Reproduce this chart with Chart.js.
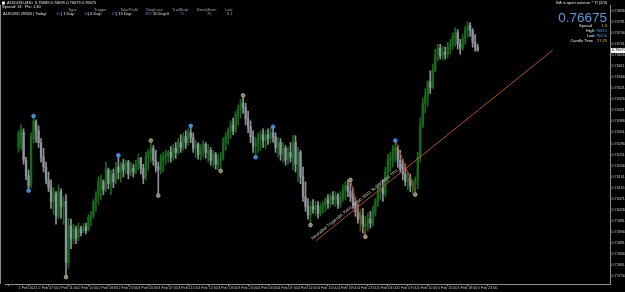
<!DOCTYPE html>
<html>
<head>
<meta charset="utf-8">
<script src="https://cdn.jsdelivr.net/npm/chart.js@4.4.1/dist/chart.umd.min.js"></script>
<style>
  html, body { margin: 0; padding: 0; background: #000; overflow: hidden; }
  canvas { display: block; }
</style>
</head>
<body>
<canvas id="priceChart" width="625" height="292"></canvas>
<script>
'use strict';

/* AUDUSD M30 candles, prices in points (1e-5) */
const OPEN = [
  76280, 76300, 76340, 76228, 76164, 76128, 76316, 76384, 76348, 76300,
  76240, 76200, 76148, 76116, 76060, 76092, 76000, 76100, 76040, 76060,
  75812, 75960, 75908, 75948, 75916, 75948, 75940, 75956, 75948, 75996,
  76004, 76060, 76084, 76140, 76140, 76116, 76188, 76132, 76172, 76148,
  76200, 76180, 76212, 76200, 76220, 76180, 76196, 76188, 76212, 76236,
  76196, 76164, 76240, 76260, 76276, 76228, 76200, 76188, 76228, 76244,
  76252, 76260, 76240, 76276, 76260, 76300, 76280, 76324, 76300, 76340,
  76320, 76276, 76292, 76252, 76276, 76292, 76260, 76268, 76228, 76252,
  76212, 76228, 76240, 76300, 76324, 76348, 76372, 76348, 76412, 76436,
  76460, 76444, 76396, 76364, 76324, 76284, 76300, 76316, 76332, 76308,
  76332, 76316, 76340, 76324, 76280, 76300, 76252, 76276, 76228, 76260,
  76240, 76300, 76212, 76260, 76160, 76080, 76040, 76004, 76040, 76028,
  76044, 76012, 76036, 76048, 76068, 76052, 76080, 76068, 76084, 76048,
  76076, 76108, 76124, 76100, 76080, 76052, 76020, 75988, 76004, 75956,
  75972, 75988, 75972, 76020, 76060, 76100, 76116, 76092, 76180, 76228,
  76240, 76268, 76280, 76228, 76200, 76172, 76140, 76156, 76124, 76132,
  76148, 76240, 76372, 76460, 76492, 76548, 76524, 76596, 76660, 76684,
  76652, 76668, 76660, 76692, 76700, 76732, 76748, 76700, 76684, 76724,
  76756, 76776, 76756, 76708, 76688,
];
const HIGH = [
  76348, 76372, 76356, 76240, 76188, 76340, 76408, 76392, 76368, 76316,
  76276, 76220, 76180, 76148, 76116, 76100, 76128, 76112, 76080, 76088,
  75992, 75988, 75968, 75960, 75972, 75960, 75972, 75972, 76008, 76020,
  76068, 76100, 76160, 76168, 76148, 76220, 76196, 76188, 76192, 76220,
  76248, 76220, 76232, 76228, 76228, 76220, 76212, 76228, 76252, 76240,
  76212, 76260, 76272, 76308, 76288, 76268, 76220, 76252, 76260, 76268,
  76268, 76284, 76292, 76300, 76316, 76332, 76340, 76348, 76356, 76368,
  76340, 76308, 76300, 76292, 76308, 76300, 76292, 76280, 76268, 76260,
  76252, 76260, 76320, 76340, 76360, 76388, 76400, 76428, 76452, 76476,
  76492, 76460, 76428, 76388, 76348, 76320, 76340, 76348, 76356, 76348,
  76356, 76360, 76364, 76340, 76320, 76316, 76300, 76288, 76280, 76300,
  76328, 76328, 76280, 76268, 76200, 76140, 76072, 76060, 76068, 76060,
  76060, 76052, 76060, 76076, 76088, 76092, 76100, 76100, 76092, 76100,
  76128, 76140, 76148, 76148, 76116, 76076, 76048, 76028, 76032, 76000,
  76012, 76020, 76040, 76072, 76120, 76140, 76148, 76200, 76252, 76260,
  76288, 76308, 76288, 76268, 76232, 76212, 76180, 76172, 76148, 76160,
  76260, 76400, 76480, 76520, 76552, 76592, 76620, 76680, 76700, 76700,
  76692, 76688, 76708, 76720, 76748, 76768, 76760, 76720, 76740, 76772,
  76792, 76788, 76764, 76740, 76700,
];
const LOW = [
  76260, 76272, 76212, 76148, 76104, 76116, 76300, 76300, 76280, 76220,
  76180, 76132, 76100, 76032, 76008, 75968, 75988, 75992, 75968, 75752,
  75788, 75868, 75888, 75888, 75900, 75920, 75932, 75928, 75940, 75960,
  75992, 76020, 76048, 76068, 76088, 76100, 76112, 76088, 76116, 76132,
  76152, 76140, 76160, 76172, 76152, 76164, 76160, 76172, 76188, 76172,
  76132, 76148, 76188, 76220, 76208, 76180, 76084, 76172, 76180, 76212,
  76220, 76220, 76228, 76236, 76252, 76260, 76268, 76276, 76288, 76300,
  76260, 76240, 76232, 76228, 76240, 76236, 76220, 76208, 76200, 76192,
  76188, 76184, 76228, 76268, 76292, 76316, 76332, 76340, 76372, 76400,
  76420, 76372, 76340, 76300, 76260, 76240, 76260, 76268, 76280, 76276,
  76292, 76300, 76300, 76260, 76240, 76228, 76220, 76208, 76212, 76220,
  76188, 76180, 76140, 76132, 76060, 76020, 75988, 75964, 76012, 76004,
  75992, 76000, 76012, 76020, 76032, 76036, 76048, 76040, 76032, 76036,
  76060, 76068, 76080, 76060, 76032, 76000, 75972, 75940, 75932, 75916,
  75940, 75952, 75960, 76000, 76040, 76068, 76060, 76080, 76140, 76180,
  76200, 76220, 76200, 76180, 76148, 76124, 76108, 76100, 76092, 76088,
  76112, 76220, 76360, 76420, 76448, 76500, 76520, 76588, 76632, 76640,
  76636, 76640, 76644, 76660, 76680, 76692, 76680, 76660, 76676, 76700,
  76728, 76732, 76688, 76672, 76672,
];
const CLOSE = [
  76340, 76356, 76228, 76164, 76124, 76320, 76388, 76348, 76300, 76240,
  76200, 76148, 76116, 76060, 76100, 76000, 76100, 76040, 76060, 75812,
  75960, 75908, 75948, 75908, 75948, 75932, 75956, 75940, 75996, 76004,
  76060, 76084, 76140, 76148, 76108, 76196, 76132, 76172, 76140, 76200,
  76180, 76212, 76188, 76220, 76172, 76196, 76180, 76212, 76236, 76196,
  76156, 76244, 76260, 76276, 76228, 76200, 76188, 76236, 76244, 76252,
  76260, 76240, 76276, 76260, 76300, 76280, 76324, 76300, 76340, 76320,
  76276, 76292, 76252, 76276, 76292, 76260, 76268, 76228, 76252, 76212,
  76228, 76240, 76300, 76324, 76348, 76372, 76348, 76412, 76436, 76460,
  76444, 76396, 76364, 76324, 76284, 76300, 76316, 76332, 76308, 76332,
  76316, 76340, 76324, 76280, 76300, 76252, 76276, 76228, 76260, 76240,
  76300, 76212, 76260, 76160, 76080, 76040, 76004, 76040, 76028, 76044,
  76012, 76036, 76048, 76068, 76052, 76080, 76068, 76084, 76048, 76076,
  76108, 76124, 76100, 76080, 76052, 76020, 75988, 76004, 75956, 75972,
  75988, 75972, 76020, 76060, 76100, 76116, 76092, 76180, 76228, 76240,
  76268, 76280, 76228, 76200, 76172, 76140, 76156, 76124, 76132, 76148,
  76240, 76372, 76460, 76492, 76548, 76524, 76596, 76660, 76684, 76652,
  76668, 76660, 76692, 76700, 76732, 76748, 76700, 76684, 76724, 76756,
  76776, 76756, 76708, 76688, 76675,
];

/* zigzag swing points: bar index, price, marker kind */
const SWING_IDX   = [4, 6, 19, 40, 53, 56, 69, 81, 90, 95, 102, 117, 133, 139, 151, 159];
const SWING_PRICE = [76104, 76408, 75752, 76248, 76308, 76084, 76368, 76184, 76492, 76240, 76364, 75964, 76148, 75916, 76308, 76088];
const SWING_KIND  = ['b', 'b', 'o', 'b', 'o', 'o', 'b', 'o', 'o', 'b', 'b', 'o', 'o', 'o', 'b', 'o'];

/* red zigzag legs and the trigger trend line */
const LEG_A = { x: [133, 139], y: [76148, 75916] };
const LEG_B = { x: [151, 159.5], y: [76308, 76088] };
const TREND = { x: [119.2, 214.1], y: [75900, 76676] };
const TREND_LABEL = 'NeutralBar Trigger@0.75931 TP@0.76511 SL@0.75641 TPro 1.2';

/* axes */
const Y_TICKS = [
  76836, 76791, 76746, 76701, 76656, 76611, 76566, 76521, 76476, 76431,
  76386, 76341, 76296, 76251, 76206, 76161, 76116, 76071, 76026, 75981,
  75936, 75891, 75846, 75801, 75756,
];
const TIME_TICK_INDEX = [0, 8, 16, 24, 32, 40, 48, 56, 64, 72, 80, 88, 96, 104, 112, 120, 128, 136, 144, 152, 160, 168, 176, 184];
const TIME_LABELS = [
  '2 Feb 2021', '2 Feb 07:00', '2 Feb 11:00', '2 Feb 15:00', '2 Feb 19:00', '2 Feb 23:00',
  '3 Feb 03:00', '3 Feb 07:00', '3 Feb 11:00', '3 Feb 15:00', '3 Feb 19:00', '3 Feb 23:00',
  '4 Feb 03:00', '4 Feb 07:00', '4 Feb 11:00', '4 Feb 15:00', '4 Feb 19:00', '4 Feb 23:00',
  '5 Feb 03:00', '5 Feb 07:00', '5 Feb 11:00', '5 Feb 15:00', '5 Feb 19:00', '5 Feb 23:00',
];

/** Colours, roughly the terminal scheme */
const COLORS = {
  bull:   '#19691d',
  bear:   '#8d939a',
  axis:   '#8c8c8c',
  tick:   '#c4c4c4',
  leg:    '#cc3a1e',
  trend:  '#c24a1c',
  blue:   '#3b8fe6',
  orange: '#e8a030',
  white:  '#e6e6e6',
  gray:   '#a0a0a0',
  purple: '#8a62e0',
  yellow: '#f0c020',
  price:  '#4f9be8',
};

const FONT = '"Liberation Sans", Arial, sans-serif';

function fmtPrice(v) {
  return (v / 1e5).toFixed(5);
}

function drawText(ctx, text, x, y, color, size, align = 'left') {
  ctx.font = `${size}px ${FONT}`;
  ctx.fillStyle = color;
  ctx.textAlign = align;
  ctx.textBaseline = 'middle';
  ctx.fillText(text, x, y);
}

/** Draws text pieces one after another, each in its own colour */
function drawRun(ctx, parts, x, y, size) {
  ctx.font = `${size}px ${FONT}`;
  let cx = x;
  parts.forEach(([text, color, at]) => {
    if (at !== undefined) cx = at;
    drawText(ctx, text, cx, y, color, size);
    cx += ctx.measureText(text).width + 1;
  });
}

const isBull = OPEN.map((o, i) => CLOSE[i] >= o);
const barColors = isBull.map((b) => (b ? COLORS.bull : COLORS.bear));

/** Labels, info panels and the rotated note on the trend line */
const overlayPlugin = {
  id: 'overlay',
  afterDraw(chart) {
    const { ctx, chartArea, scales: { x, y } } = chart;
    ctx.save();

    // left frame edge
    ctx.strokeStyle = COLORS.axis;
    ctx.lineWidth = 1;
    ctx.beginPath();
    ctx.moveTo(0.5, chartArea.top);
    ctx.lineTo(0.5, chartArea.bottom);
    ctx.stroke();

    // note along the trend line
    const x0 = x.getPixelForValue(TREND.x[0]);
    const y0 = y.getPixelForValue(TREND.y[0]);
    const x1 = x.getPixelForValue(TREND.x[1]);
    const y1 = y.getPixelForValue(TREND.y[1]);
    ctx.save();
    ctx.translate(x0, y0);
    ctx.rotate(Math.atan2(y1 - y0, x1 - x0));
    ctx.font = `4px ${FONT}`;
    ctx.fillStyle = '#dcdcdc';
    ctx.textAlign = 'left';
    ctx.textBaseline = 'bottom';
    ctx.fillText(TREND_LABEL, -2, -2);
    ctx.restore();

    // top-left symbol line and EA stats
    ctx.fillStyle = COLORS.white;
    ctx.fillRect(2, 1.5, 3, 3);
    drawText(ctx, 'AUDUSD,M30  0.76689 0.76699 0.76679 0.76675', 7, 3, COLORS.white, 4);
    drawText(ctx, 'Spread: 13   Pts: 1.30', 2, 7, COLORS.white, 4);
    const headers = [['Type', 68], ['Trigger', 94], ['TakeProfit', 120], ['StopLoss', 146],
      ['TrailStop', 172], ['BreakEven', 197], ['Lots', 225]];
    headers.forEach(([t, hx]) => drawText(ctx, t, hx, 9.5, COLORS.gray, 4));
    drawRun(ctx, [
      ['AUDUSD 28320 | Today:', COLORS.white, 3],
      ['15', COLORS.blue, 56],
      ['| 1 Day:', COLORS.white, 61],
      ['16', COLORS.purple, 84],
      ['| 6 Day:', COLORS.white, 88],
      ['67', COLORS.purple, 112],
      ['| 13 Day:', COLORS.white, 116],
      ['389', COLORS.purple, 145],
      ['20 Day:0', COLORS.white, 153],
      ['76', COLORS.purple, 180],
      ['75', COLORS.gray, 207],
      ['0.1', COLORS.gray, 227],
    ], 3, 14, 4);

    // top-right price panel
    const rx = 607;
    drawText(ctx, 'EA is open autorun * TI (2/3)', rx, 3, COLORS.white, 4, 'right');
    drawText(ctx, fmtPrice(CLOSE[CLOSE.length - 1]), rx, 18, COLORS.price, 13.5, 'right');
    drawText(ctx, 'Spread', 592, 25.5, COLORS.white, 4, 'right');
    drawText(ctx, '1.3', rx, 25.5, COLORS.yellow, 4, 'right');
    drawText(ctx, 'High', 594, 30.5, COLORS.white, 4, 'right');
    drawText(ctx, '0.76815', rx, 30.5, COLORS.price, 4, 'right');
    drawText(ctx, 'Low', 594, 35.5, COLORS.white, 4, 'right');
    drawText(ctx, '0.76650', rx, 35.5, COLORS.price, 4, 'right');
    drawText(ctx, 'Candle Time', 593, 40.5, COLORS.white, 4, 'right');
    drawText(ctx, '27:29', rx, 40.5, COLORS.yellow, 4, 'right');

    // current bid box on the price scale
    const py = y.getPixelForValue(CLOSE[CLOSE.length - 1]);
    ctx.fillStyle = '#ffffff';
    ctx.fillRect(chartArea.right + 1, py - 2.5, 14, 5);
    drawText(ctx, fmtPrice(CLOSE[CLOSE.length - 1]), chartArea.right + 2, py, '#000000', 3.8);

    ctx.restore();
  },
};

const tickFont = { family: FONT, size: 3.7 };

new Chart(document.getElementById('priceChart'), {
  type: 'bar',
  data: {
    datasets: [
      {
        label: 'wick',
        data: HIGH.map((h, i) => ({ x: i, y: [LOW[i], h] })),
        backgroundColor: barColors,
        barThickness: 1,
        grouped: false,
        order: 5,
      },
      {
        label: 'body',
        data: OPEN.map((o, i) => ({ x: i, y: [o, CLOSE[i]] })),
        backgroundColor: barColors,
        barThickness: 1.7,
        minBarLength: 1,
        grouped: false,
        order: 4,
      },
      {
        type: 'line',
        label: 'trend',
        data: TREND.x.map((v, i) => ({ x: v, y: TREND.y[i] })),
        borderColor: COLORS.trend,
        borderWidth: 1,
        pointRadius: 0,
        order: 3,
      },
      {
        type: 'line',
        label: 'legA',
        data: LEG_A.x.map((v, i) => ({ x: v, y: LEG_A.y[i] })),
        borderColor: COLORS.leg,
        borderWidth: 1,
        pointRadius: 0,
        order: 2,
      },
      {
        type: 'line',
        label: 'legB',
        data: LEG_B.x.map((v, i) => ({ x: v, y: LEG_B.y[i] })),
        borderColor: COLORS.leg,
        borderWidth: 1,
        pointRadius: 0,
        order: 2,
      },
      {
        type: 'line',
        label: 'swings',
        data: SWING_IDX.map((v, i) => ({ x: v, y: SWING_PRICE[i] })),
        showLine: false,
        pointRadius: 1.8,
        pointBorderWidth: 1,
        pointBackgroundColor: COLORS.blue,
        pointBorderColor: SWING_KIND.map((k) => (k === 'o' ? COLORS.orange : COLORS.blue)),
        order: 1,
      },
    ],
  },
  options: {
    responsive: false,
    animation: false,
    events: [],
    layout: { padding: 0 },
    plugins: { legend: { display: false }, tooltip: { enabled: false } },
    scales: {
      x: {
        type: 'linear',
        min: -0.4,
        max: 232,
        afterBuildTicks: (s) => { s.ticks = TIME_TICK_INDEX.map((v) => ({ value: v })); },
        afterFit: (s) => { s.height = 8; },
        ticks: {
          autoSkip: false,
          maxRotation: 0,
          align: 'start',
          padding: 0,
          color: COLORS.tick,
          font: tickFont,
          callback: (v, i) => TIME_LABELS[i],
        },
        grid: { drawOnChartArea: false, tickLength: 2, color: COLORS.axis },
        border: { color: COLORS.axis },
      },
      y: {
        position: 'right',
        min: 75724,
        max: 76860,
        afterBuildTicks: (s) => { s.ticks = Y_TICKS.map((v) => ({ value: v })); },
        afterFit: (s) => { s.width = 15; },
        ticks: {
          autoSkip: false,
          padding: 0.5,
          color: COLORS.tick,
          font: tickFont,
          callback: (v) => fmtPrice(v),
        },
        grid: { drawOnChartArea: false, tickLength: 1, color: COLORS.axis },
        border: { color: COLORS.axis },
      },
    },
  },
  plugins: [overlayPlugin],
});
</script>
</body>
</html>
